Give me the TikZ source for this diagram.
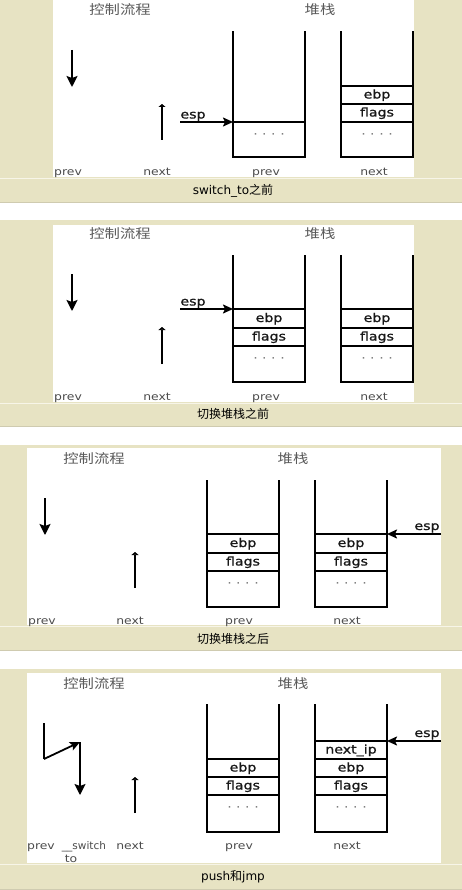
\documentclass[tikz,border=0pt]{standalone}
\usepackage{fontspec}
\usepackage{graphicx}
\setmainfont{DejaVu Sans}
\newfontfamily\cjk{Noto Sans CJK SC}
\newfontfamily\cellfont[FakeBold=1]{DejaVu Sans}
\usetikzlibrary{arrows.meta}
\definecolor{beige}{HTML}{E7E3C3}
\definecolor{capline}{HTML}{F7F5E8}
\definecolor{capdark}{HTML}{CFCBB0}
\definecolor{titlegray}{HTML}{5A5A5A}
\newcommand\hstretch[1]{\scalebox{1.18}[1]{#1}}
\tikzset{
  stk/.style={line width=1.8pt, line cap=rect, black},
  sep/.style={line width=1.8pt, black},
  bigarr/.style={line width=1.8pt, -{Stealth[length=11pt,width=11pt,inset=2pt]}},
  esparr/.style={line width=1.8pt, -{Stealth[length=10pt,width=9pt,inset=2pt]}},
  smallarr/.style={line width=1.8pt, -{Stealth[length=3pt,width=7pt,inset=0pt]}},
  flowline/.style={line width=1.8pt},
  ttl/.style={font=\cjk\fontsize{13}{13}\selectfont, text=titlegray, inner sep=0},
  cell/.style={font=\cellfont\fontsize{12}{12}\selectfont, text=black!90, inner sep=0, anchor=base},
  esplbl/.style={font=\cellfont\fontsize{12}{12}\selectfont, text=black!90, inner sep=0, anchor=base},
  lbl/.style={font=\fontsize{10.5}{10.5}\selectfont, text=black!70, inner sep=0, anchor=base},
  dotsn/.style={font=\fontsize{12}{12}\selectfont, text=black!55, inner sep=0},
  captxt/.style={font=\fontsize{12}{12}\selectfont, inner sep=0, text height=8pt, text depth=3pt},
}
\newcommand\capband[2]{%
  \fill[beige] (0,#1) rectangle (462,#2);
  \draw[capline, line width=1pt] (0,#1+0.5) -- (462,#1+0.5);
  \draw[capdark, line width=0.8pt] (0,#2-0.4) -- (462,#2-0.4);
}
\begin{document}
\begin{tikzpicture}[x=1pt,y=-1pt]
\useasboundingbox (0,0) rectangle (462,890);
% ---------- backgrounds ----------
\fill[white] (0,0) rectangle (462,890);
\fill[beige] (0,0) rectangle (462,178);
\fill[white] (53,0) rectangle (414,177);
\capband{178}{203}
\fill[beige] (0,220) rectangle (462,403);
\fill[white] (53,225) rectangle (414,402);
\capband{403}{427}
\fill[beige] (0,445) rectangle (462,626);
\fill[white] (27,448) rectangle (441,625);
\capband{626}{651}
\fill[beige] (0,669) rectangle (462,864);
\fill[white] (27,673) rectangle (441,863);
\capband{864}{890}

% ================= Panel 1 =================
\node[ttl] (t1a) at (120,10) {\hstretch{控制流程}};
\node[ttl] (t1b) at (320,10) {\hstretch{堆栈}};
\coordinate (a1s) at (72,50); \coordinate (a1e) at (72,87);
\draw[bigarr] (a1s) -- (a1e);
\coordinate (n1s) at (162,140); \coordinate (n1e) at (162,104);
\draw[smallarr] (n1s) -- (n1e);
% prev stack
\draw[stk] (233,32) -- (233,157) -- (305,157) -- (305,32);
\draw[sep] (233,122) -- (305,122);
\node[dotsn] (d1a) at (269,136) {\hstretch{· · · ·}};
% next stack
\draw[stk] (341,32) -- (341,157) -- (413,157) -- (413,32);
\draw[sep] (341,86) -- (413,86);
\draw[sep] (341,104) -- (413,104);
\draw[sep] (341,122) -- (413,122);
\node[cell] (e1b) at (377,98.5) {\hstretch{ebp}};
\node[cell] (f1b) at (377,116.5) {\hstretch{flags}};
\node[dotsn] (d1b) at (377,136) {\hstretch{· · · ·}};
% esp
\node[esplbl] (esp1) at (193,118.5) {\hstretch{esp}};
\coordinate (esp1s) at (180,122); \coordinate (esp1e) at (233,122);
\draw[esparr] (esp1s) -- (esp1e);
% labels
\node[lbl] (l1a) at (68,176) {\hstretch{prev}};
\node[lbl] (l1b) at (157,176) {\hstretch{next}};
\node[lbl] (l1c) at (266,176) {\hstretch{prev}};
\node[lbl] (l1d) at (374,176) {\hstretch{next}};
\node[captxt] (c1) at (233,192) {switch\_to{\cjk 之前}};

% ================= Panel 2 =================
\node[ttl] (t2a) at (120,234) {\hstretch{控制流程}};
\node[ttl] (t2b) at (320,234) {\hstretch{堆栈}};
\coordinate (a2s) at (72,274); \coordinate (a2e) at (72,311);
\draw[bigarr] (a2s) -- (a2e);
\coordinate (n2s) at (162,364); \coordinate (n2e) at (162,327);
\draw[smallarr] (n2s) -- (n2e);
\draw[stk] (233,256) -- (233,382) -- (305,382) -- (305,256);
\draw[sep] (233,309) -- (305,309);
\draw[sep] (233,328) -- (305,328);
\draw[sep] (233,346) -- (305,346);
\node[cell] (e2a) at (269,322) {\hstretch{ebp}};
\node[cell] (f2a) at (269,340.5) {\hstretch{flags}};
\node[dotsn] (d2a) at (269,360) {\hstretch{· · · ·}};
\draw[stk] (341,256) -- (341,382) -- (413,382) -- (413,256);
\draw[sep] (341,309) -- (413,309);
\draw[sep] (341,328) -- (413,328);
\draw[sep] (341,346) -- (413,346);
\node[cell] (e2b) at (377,322) {\hstretch{ebp}};
\node[cell] (f2b) at (377,340.5) {\hstretch{flags}};
\node[dotsn] (d2b) at (377,360) {\hstretch{· · · ·}};
\node[esplbl] (esp2) at (193,305.5) {\hstretch{esp}};
\coordinate (esp2s) at (180,309); \coordinate (esp2e) at (233,309);
\draw[esparr] (esp2s) -- (esp2e);
\node[lbl] (l2a) at (68,400) {\hstretch{prev}};
\node[lbl] (l2b) at (157,400) {\hstretch{next}};
\node[lbl] (l2c) at (266,400) {\hstretch{prev}};
\node[lbl] (l2d) at (374,400) {\hstretch{next}};
\node[captxt] (c2) at (233,416) {\cjk 切换堆栈之前};

% ================= Panel 3 =================
\node[ttl] (t3a) at (94,459) {\hstretch{控制流程}};
\node[ttl] (t3b) at (293,459) {\hstretch{堆栈}};
\coordinate (a3s) at (45,498); \coordinate (a3e) at (45,535);
\draw[bigarr] (a3s) -- (a3e);
\coordinate (n3s) at (135,588); \coordinate (n3e) at (135,552);
\draw[smallarr] (n3s) -- (n3e);
\draw[stk] (207,481) -- (207,607) -- (279,607) -- (279,481);
\draw[sep] (207,534) -- (279,534);
\draw[sep] (207,553) -- (279,553);
\draw[sep] (207,571) -- (279,571);
\node[cell] (e3a) at (243,547) {\hstretch{ebp}};
\node[cell] (f3a) at (243,565.5) {\hstretch{flags}};
\node[dotsn] (d3a) at (243,585) {\hstretch{· · · ·}};
\draw[stk] (315,481) -- (315,607) -- (387,607) -- (387,481);
\draw[sep] (315,534) -- (387,534);
\draw[sep] (315,553) -- (387,553);
\draw[sep] (315,571) -- (387,571);
\node[cell] (e3b) at (351,547) {\hstretch{ebp}};
\node[cell] (f3b) at (351,565.5) {\hstretch{flags}};
\node[dotsn] (d3b) at (351,585) {\hstretch{· · · ·}};
\node[esplbl] (esp3) at (427,530) {\hstretch{esp}};
\coordinate (esp3s) at (441,534); \coordinate (esp3e) at (387,534);
\draw[esparr] (esp3s) -- (esp3e);
\node[lbl] (l3a) at (42,624.5) {\hstretch{prev}};
\node[lbl] (l3b) at (130,624.5) {\hstretch{next}};
\node[lbl] (l3c) at (239,624.5) {\hstretch{prev}};
\node[lbl] (l3d) at (347,624.5) {\hstretch{next}};
\node[captxt] (c3) at (233,641) {\cjk 切换堆栈之后};

% ================= Panel 4 =================
\node[ttl] (t4a) at (94,684) {\hstretch{控制流程}};
\node[ttl] (t4b) at (293,684) {\hstretch{堆栈}};
\coordinate (f4a) at (44,723); \coordinate (f4b) at (44,759);
\coordinate (f4c) at (80,742); \coordinate (f4d) at (80,795);
\draw[flowline, line join=miter] (f4a) -- (f4b);
\draw[line width=1.8pt, -{Stealth[length=10pt,width=9pt,inset=2pt]}] (f4b) -- (f4c);
\draw[bigarr] (f4c) -- (f4d);
\coordinate (n4s) at (135,813); \coordinate (n4e) at (135,777);
\draw[smallarr] (n4s) -- (n4e);
\draw[stk] (207,705) -- (207,832) -- (279,832) -- (279,705);
\draw[sep] (207,759) -- (279,759);
\draw[sep] (207,777) -- (279,777);
\draw[sep] (207,795) -- (279,795);
\node[cell] (e4a) at (243,771.5) {\hstretch{ebp}};
\node[cell] (f4x) at (243,789.5) {\hstretch{flags}};
\node[dotsn] (d4a) at (243,809) {\hstretch{· · · ·}};
\draw[stk] (315,705) -- (315,832) -- (387,832) -- (387,705);
\draw[sep] (315,741) -- (387,741);
\draw[sep] (315,759) -- (387,759);
\draw[sep] (315,777) -- (387,777);
\draw[sep] (315,795) -- (387,795);
\node[cell] (ni4) at (351,753.5) {\hstretch{next\_ip}};
\node[cell] (e4b) at (351,771.5) {\hstretch{ebp}};
\node[cell] (f4y) at (351,789.5) {\hstretch{flags}};
\node[dotsn] (d4b) at (351,809) {\hstretch{· · · ·}};
\node[esplbl] (esp4) at (427,737) {\hstretch{esp}};
\coordinate (esp4s) at (441,741); \coordinate (esp4e) at (387,741);
\draw[esparr] (esp4s) -- (esp4e);
\node[lbl] (l4a) at (41,849.5) {\hstretch{prev}};
\node[lbl] (l4b) at (84,849.5) {\_\_switch};
\node[lbl] (l4c) at (71,862.5) {\hstretch{to}};
\node[lbl] (l4d) at (130,849.5) {\hstretch{next}};
\node[lbl] (l4e) at (239,849.5) {\hstretch{prev}};
\node[lbl] (l4f) at (347,849.5) {\hstretch{next}};
\node[captxt] (c4) at (233,878) {push{\cjk 和}jmp};
\end{tikzpicture}
\end{document}
